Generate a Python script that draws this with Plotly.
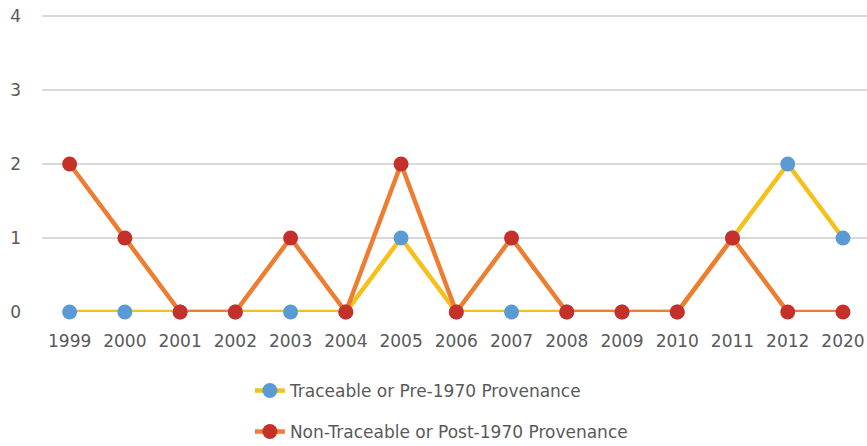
import plotly.graph_objects as go

years = ["1999", "2000", "2001", "2002", "2003", "2004", "2005", "2006",
         "2007", "2008", "2009", "2010", "2011", "2012", "2020"]
traceable = [0, 0, 0, 0, 0, 0, 1, 0, 0, 0, 0, 0, 1, 2, 1]
non_traceable = [2, 1, 0, 0, 1, 0, 2, 0, 1, 0, 0, 0, 1, 0, 0]
y_ticks = [0, 1, 2, 3, 4]

FONT = "DejaVu Sans"
FS = 17
TXT = "#595959"

fig = go.Figure()
fig.add_trace(go.Scatter(
    x=years, y=traceable, mode="lines+markers",
    name="Traceable or Pre-1970 Provenance",
    line=dict(color="#F6C01B", width=4.5),
    marker=dict(color="#5B9BD5", size=15),
    cliponaxis=False, legend="legend",
))
fig.add_trace(go.Scatter(
    x=years, y=non_traceable, mode="lines+markers",
    name="Non-Traceable or Post-1970 Provenance",
    line=dict(color="#ED7D31", width=4.5),
    marker=dict(color="#C6302A", size=15),
    cliponaxis=False, legend="legend2",
))

legend_common = dict(xref="paper", yref="container", xanchor="left",
                     yanchor="middle", font=dict(family=FONT, size=FS, color=TXT),
                     bgcolor="rgba(0,0,0,0)")
fig.update_layout(
    width=867, height=446,
    margin=dict(l=42, r=0, t=13, b=134),
    paper_bgcolor="white", plot_bgcolor="white",
    font=dict(family=FONT, size=FS, color=TXT),
    legend=dict(x=0.252, y=0.1233, **legend_common),
    legend2=dict(x=0.252, y=0.0314, **legend_common),
    showlegend=True,
)
fig.update_xaxes(
    type="category", range=[-0.5, 14.435], automargin=False,
    showgrid=False, zeroline=False, showline=False,
    ticks="", ticklabelstandoff=17, tickangle=0,
    tickfont=dict(family=FONT, size=FS, color=TXT),
)
fig.update_yaxes(
    range=[0, 4.04], tickvals=y_ticks, automargin=False,
    showgrid=True, gridcolor="#D9D9D9", gridwidth=2,
    zeroline=False, showline=False, ticks="", ticklabelstandoff=20,
    tickfont=dict(family=FONT, size=FS, color=TXT),
)

fig.write_html(
    "out.html",
    config={"displayModeBar": False},
    post_script="document.body.style.margin='0';document.body.style.padding='0';",
)
